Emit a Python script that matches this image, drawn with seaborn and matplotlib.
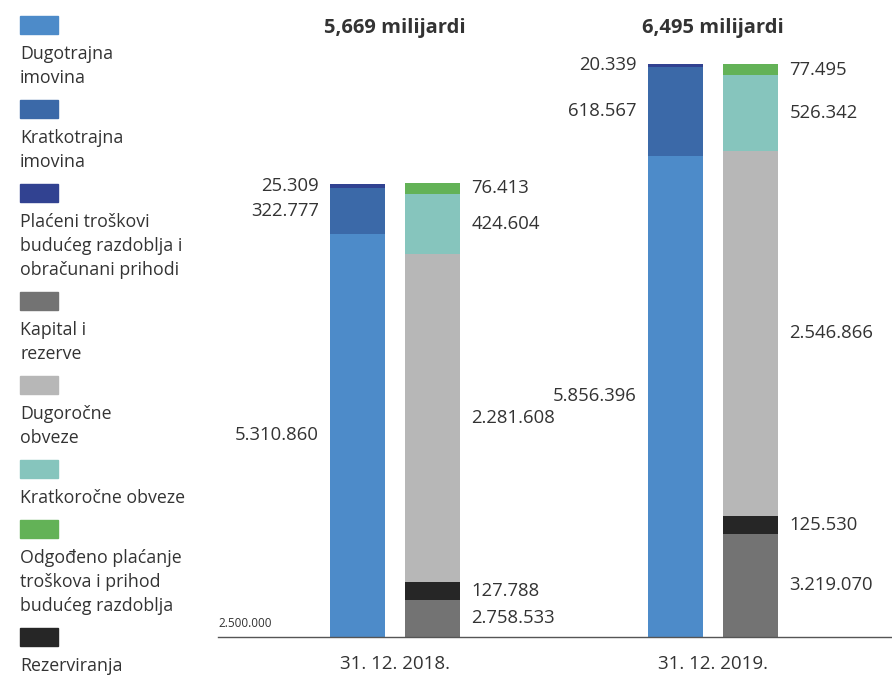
import matplotlib
matplotlib.use("Agg")
import matplotlib.pyplot as plt
from matplotlib.patches import Rectangle
import seaborn as sns
import pandas as pd

# --- podaci ---
datumi = ["31. 12. 2018.", "31. 12. 2019."]
naslovi = ["5,669 milijardi", "6,495 milijardi"]
strane = ["Imovina", "Obveze"]

# imovina, odozdo prema gore
imovina_slojevi = ["Dugotrajna\nimovina",
                   "Kratkotrajna\nimovina",
                   "Plaćeni troškovi\nbudućeg razdoblja i\nobračunani prihodi"]
imovina_vrijednosti = [[5310860, 5856396],
                       [322777, 618567],
                       [25309, 20339]]

# obveze, odozdo prema gore
obveze_slojevi = ["Kapital i\nrezerve",
                  "Rezerviranja",
                  "Dugoročne\nobveze",
                  "Kratkoročne obveze",
                  "Odgođeno plaćanje\ntroškova i prihod\nbudućeg razdoblja"]
obveze_vrijednosti = [[2758533, 3219070],
                      [127788, 125530],
                      [2281608, 2546866],
                      [424604, 526342],
                      [76413, 77495]]

boje = {
    "Dugotrajna\nimovina": "#4d8bc9",
    "Kratkotrajna\nimovina": "#3b69a8",
    "Plaćeni troškovi\nbudućeg razdoblja i\nobračunani prihodi": "#314291",
    "Kapital i\nrezerve": "#737373",
    "Dugoročne\nobveze": "#b7b7b7",
    "Kratkoročne obveze": "#86c5bd",
    "Odgođeno plaćanje\ntroškova i prihod\nbudućeg razdoblja": "#63b257",
    "Rezerviranja": "#262626",
}
legenda_redoslijed = ["Dugotrajna\nimovina",
                      "Kratkotrajna\nimovina",
                      "Plaćeni troškovi\nbudućeg razdoblja i\nobračunani prihodi",
                      "Kapital i\nrezerve",
                      "Dugoročne\nobveze",
                      "Kratkoročne obveze",
                      "Odgođeno plaćanje\ntroškova i prihod\nbudućeg razdoblja",
                      "Rezerviranja"]

Y_MIN = 2500000
Y_MAX = 6662900
TEXT_COLOR = "#333333"


def fmt(v):
    return f"{v:,}".replace(",", ".")


def build_frame():
    rows = []
    for strana, slojevi, vrijednosti in [("Imovina", imovina_slojevi, imovina_vrijednosti),
                                         ("Obveze", obveze_slojevi, obveze_vrijednosti)]:
        for i, datum in enumerate(datumi):
            dno = 0
            for level, (sloj, vals) in enumerate(zip(slojevi, vrijednosti)):
                rows.append({"datum": datum, "strana": strana, "sloj": sloj,
                             "razina": level, "vrijednost": vals[i],
                             "dno": dno, "vrh": dno + vals[i]})
                dno += vals[i]
    return pd.DataFrame(rows)


df = build_frame()

sns.set_style("white")
plt.rcParams["font.family"] = ["Open Sans", "DejaVu Sans"]

fig = plt.figure(figsize=(8.92, 6.78), dpi=100)
W, H = 892, 678
ax = fig.add_axes([218 / W, (H - 637) / H, (W - 218) / W, (637 - 40) / H])

# slojeve crtamo od najvišeg prema najnižem da se vidi slaganje
for strana in strane:
    sub = df[df["strana"] == strana]
    for level in sorted(sub["razina"].unique(), reverse=True):
        part = sub[sub["razina"] == level]
        sloj = part["sloj"].iloc[0]
        sns.barplot(data=part, x="datum", y="vrh", hue="strana",
                    order=datumi, hue_order=strane, dodge=True,
                    palette={s: boje[sloj] for s in strane},
                    width=0.47, gap=0.26, saturation=1, errorbar=None,
                    legend=False, ax=ax, linewidth=0)

ax.set_ylim(Y_MIN, Y_MAX)
ax.set_xlim(-0.557, 1.563)

# vrijednosti uz stupce
for _, r in df.iterrows():
    xi = datumi.index(r["datum"])
    yc = (max(r["dno"], Y_MIN) + r["vrh"]) / 2
    if r["strana"] == "Imovina":
        ax.text(xi - 0.240, yc, fmt(r["vrijednost"]), ha="right", va="center",
                fontsize=13.3, color=TEXT_COLOR)
    else:
        ax.text(xi + 0.240, yc, fmt(r["vrijednost"]), ha="left", va="center",
                fontsize=13.3, color=TEXT_COLOR)

# naslovi iznad stupaca
for xi, t in enumerate(naslovi):
    ax.text(xi, 1.020, t, transform=ax.get_xaxis_transform(), ha="center",
            va="center", fontsize=14.5, fontweight="bold", color=TEXT_COLOR,
            clip_on=False)

ax.text(0.0, 0.012, fmt(Y_MIN), transform=ax.transAxes, ha="left", va="bottom",
        fontsize=8.5, color=TEXT_COLOR)

ax.set_xticks([0, 1])
ax.set_xticklabels(datumi, fontsize=13.5, color=TEXT_COLOR)
ax.tick_params(axis="x", length=0, pad=13)
ax.set_yticks([])
ax.set_xlabel("")
ax.set_ylabel("")
for s in ["top", "right", "left"]:
    ax.spines[s].set_visible(False)
ax.spines["bottom"].set_color("#555555")
ax.spines["bottom"].set_linewidth(1.0)

# legenda lijevo
y_top = 16
for sloj in legenda_redoslijed:
    fig.patches.append(Rectangle((20 / W, (H - y_top - 18) / H), 38 / W, 18 / H,
                                 transform=fig.transFigure, color=boje[sloj]))
    lines = sloj.split("\n")
    for j, line in enumerate(lines):
        fig.text(20 / W, (H - (y_top + 43 + 24 * j)) / H, line, ha="left",
                 va="baseline", fontsize=12.8, color=TEXT_COLOR)
    y_top += 36 + 24 * len(lines)

fig.savefig("out.png", dpi=100)
